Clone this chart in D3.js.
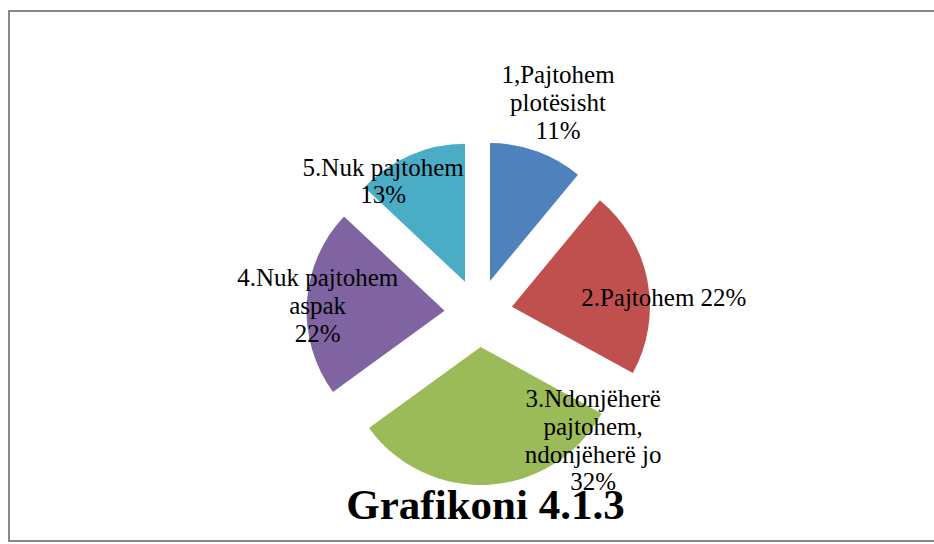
<!DOCTYPE html>
<html><head><meta charset="utf-8">
<script src="https://cdn.jsdelivr.net/npm/d3@7/dist/d3.min.js"></script></head>
<body style="margin:0">
<script>
// dati del grafico
const categories = ["1,Pajtohem|plotësisht", "2.Pajtohem", "3.Ndonjëherë|pajtohem,|ndonjëherë jo", "4.Nuk pajtohem|aspak", "5.Nuk pajtohem"];
const values = [11, 22, 32, 22, 13];
const colors = ["#4F81BD", "#C0504D", "#9BBB59", "#8064A2", "#4BACC6"];
const titleText = "Grafikoni 4.1.3";

// layout delle etichette: angolo (gradi, da ore 12) e distanza dal centro
const labelAngle = [20.7, 85.1, 137.9, 272.7, 324.2];
const labelDist = [225, 186, 171, 161, 163];
// percentuale sulla stessa riga del testo?
const pctInline = [false, true, false, false, false];

let width = 934,
height = 544;

let cx = 478.5, cy = 313,
radius = 138,
explode = 34,
lineH = 27.8;

let svg = d3.select("body").append("svg")
  .attr("width", width)
  .attr("height", height);

// cornice
svg.append("rect")
  .attr("x", 9)
  .attr("y", 11)
  .attr("width", 1000)
  .attr("height", 530)
  .attr("fill", "none")
  .attr("stroke", "#8a8a8a")
  .attr("stroke-width", 2);

let total = d3.sum(values);

let pie = d3.pie()
  .sort(null)
  .value(d => d);

let arc = d3.arc()
  .innerRadius(0)
  .outerRadius(radius);

// fette esplose
svg.selectAll("path")
  .data(pie(values))
  .enter()
  .append("path")
  .attr("d", arc)
  .attr("fill", (d, i) => colors[i])
  .attr("transform", d => {
    let mid = (d.startAngle + d.endAngle) / 2;
    return "translate(" + (cx + Math.sin(mid) * explode) + "," + (cy - Math.cos(mid) * explode) + ")";
  });

// etichette, una riga per text
categories.forEach(function(c, i) {
  let pct = Math.round(values[i] / total * 100) + "%";
  let lines = c.split("|");
  if (pctInline[i]) {
    lines[lines.length - 1] += " " + pct;
  } else {
    lines.push(pct);
  }
  let a = labelAngle[i] * Math.PI / 180;
  let x = cx + Math.sin(a) * labelDist[i],
  y = cy - Math.cos(a) * labelDist[i];

  lines.forEach(function(l, k) {
    svg.append("text")
      .attr("x", x)
      .attr("y", y + (k - (lines.length - 1) / 2) * lineH + 8.75)
      .attr("font-family", "Liberation Serif")
      .attr("font-size", 25)
      .attr("text-anchor", "middle")
      .text(l);
  });
});

// titolo
svg.append("text")
  .attr("x", 485.5)
  .attr("y", 519)
  .attr("font-family", "Liberation Serif")
  .attr("font-size", 43)
  .attr("font-weight", "bold")
  .attr("text-anchor", "middle")
  .text(titleText);
</script>
</body>
</html>
